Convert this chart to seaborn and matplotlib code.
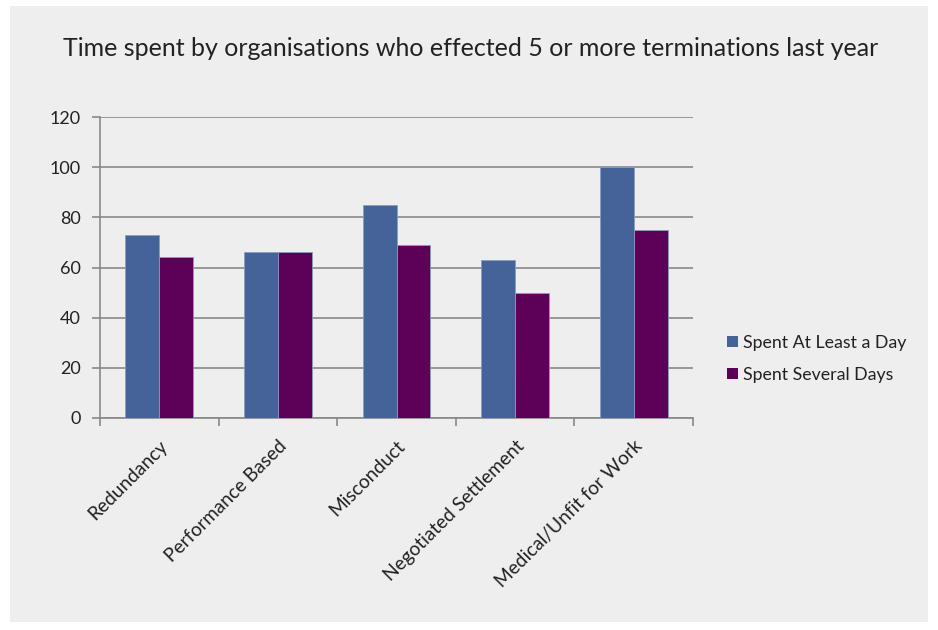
import matplotlib
matplotlib.use("Agg")
import matplotlib.pyplot as plt
from matplotlib.patches import Rectangle, Patch
import seaborn as sns
import pandas as pd

# Chart data
categories = ["Redundancy", "Performance Based", "Misconduct",
              "Negotiated Settlement", "Medical/Unfit for Work"]
series_names = ["Spent At Least a Day", "Spent Several Days"]
at_least_a_day = [73, 66, 85, 63, 100]
several_days = [64, 66, 69, 50, 75]
y_ticks = [0, 20, 40, 60, 80, 100, 120]
title = "Time spent by organisations who effected 5 or more terminations last year"

colors = ["#466399", "#5C0058"]
bg = "#EEEEEE"

df = pd.DataFrame({
    "category": categories * 2,
    "series": [series_names[0]] * len(categories) + [series_names[1]] * len(categories),
    "value": at_least_a_day + several_days,
})

sns.set_theme(style="white")
plt.rcParams["font.family"] = ["Lato", "DejaVu Sans"]

fig = plt.figure(figsize=(9.38, 6.3), dpi=100)
fig.patch.set_facecolor("white")
fig.patches.append(Rectangle((10 / 938, 8 / 630), 918 / 938, 616 / 630,
                             transform=fig.transFigure, facecolor=bg,
                             edgecolor="none", zorder=-10))

ax = fig.add_axes([100 / 938, 1 - 418 / 630, 593 / 938, 301 / 630])
ax.set_facecolor(bg)

sns.barplot(data=df, x="category", y="value", hue="series", order=categories,
            hue_order=series_names, palette=colors, saturation=1, width=0.57,
            ax=ax, edgecolor="#8A9BC0", linewidth=0.6, legend=False, zorder=3)

ax.set_ylim(0, 120)
ax.set_yticks(y_ticks)
ax.set_xlim(-0.5, len(categories) - 0.5)
ax.yaxis.grid(True, color="#888888", linewidth=1.2, zorder=0)
ax.set_axisbelow(True)

for side in ["top", "right"]:
    ax.spines[side].set_visible(False)
for side in ["left", "bottom"]:
    ax.spines[side].set_color("#888888")
    ax.spines[side].set_linewidth(1.2)

ax.tick_params(axis="y", which="major", left=True, length=6, color="#888888",
               width=1.2, labelsize=13, labelcolor="#222222", pad=8)
ax.set_xticks(range(len(categories)))
ax.set_xticklabels(categories, rotation=45, ha="right", rotation_mode="anchor",
                   fontsize=13.8, color="#222222")
ax.tick_params(axis="x", which="major", bottom=False, pad=8)
ax.set_xticks([i - 0.5 for i in range(len(categories) + 1)], minor=True)
ax.tick_params(axis="x", which="minor", bottom=True, length=6, color="#888888",
               width=1.2)
ax.set_xlabel("")
ax.set_ylabel("")

handles = [Patch(facecolor=c, edgecolor="none") for c in colors]
fig.legend(handles, series_names, loc="center left",
           bbox_to_anchor=(711 / 938, 1 - 359 / 630), frameon=False,
           fontsize=12.8, handlelength=0.6, handleheight=0.6,
           handletextpad=0.3, labelspacing=0.9, labelcolor="#222222")

fig.text(471 / 938, 1 - 48 / 630, title, ha="center", va="center",
         fontsize=18, color="#222222")

fig.savefig("out.png", dpi=100, facecolor=fig.get_facecolor())
